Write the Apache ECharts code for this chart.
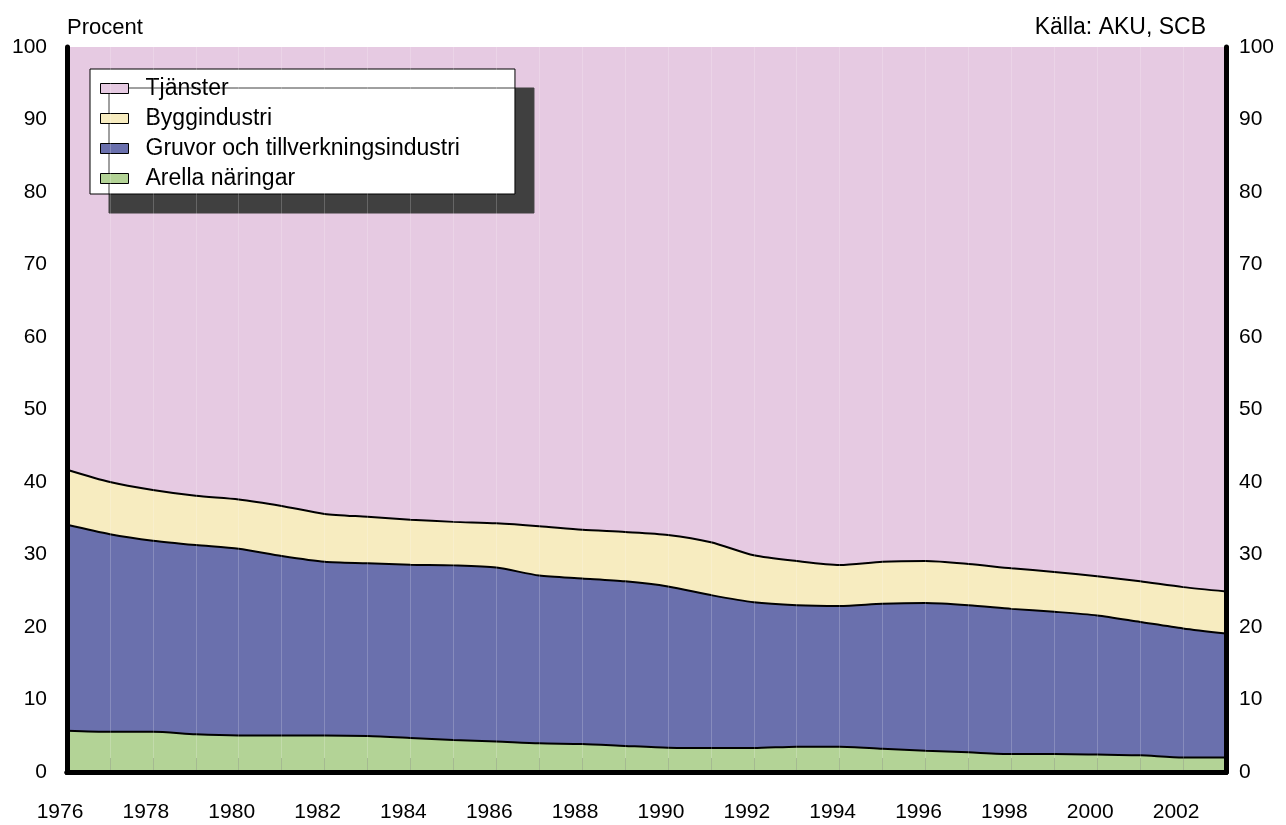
<!DOCTYPE html>
<html>
<head>
<meta charset="utf-8">
<script src="https://cdn.jsdelivr.net/npm/echarts@6/dist/echarts.min.js"></script>
<style>
html,body{margin:0;padding:0;background:#fff;}
#c{width:1286px;height:825px;}
</style>
</head>
<body>
<div id="c"></div>
<script>
const years = ['1976','1977','1978','1979','1980','1981','1982','1983','1984','1985','1986','1987','1988','1989','1990','1991','1992','1993','1994','1995','1996','1997','1998','1999','2000','2001','2002','2003'];
const arella = [5.7,5.55,5.55,5.2,5.05,5.05,5.05,4.97,4.7,4.4,4.2,3.95,3.86,3.6,3.36,3.3,3.3,3.5,3.5,3.2,2.94,2.71,2.48,2.48,2.4,2.3,2.0,2.0];
const gruvor = [28.4,27.25,26.35,26.1,25.75,24.75,23.95,23.83,23.9,24.1,24.0,23.15,22.84,22.7,22.24,21.1,20.1,19.5,19.4,20.0,20.36,20.29,20.02,19.62,19.2,18.4,17.8,17.1];
const bygg = [7.6,7.2,7.0,6.8,6.8,6.9,6.6,6.4,6.2,6.0,6.1,6.8,6.7,6.8,7.1,7.3,6.5,6.1,5.65,5.8,5.8,5.7,5.6,5.5,5.4,5.6,5.7,5.8];
const tjanster = [58.3,60.0,61.1,61.9,62.4,63.3,64.4,64.8,65.2,65.5,65.7,66.1,66.6,66.9,67.3,68.3,70.1,70.9,71.45,71.0,70.9,71.3,71.9,72.4,73.0,73.7,74.5,75.1];
const yTicks = [0,10,20,30,40,50,60,70,80,90,100];

const FONT = '"Liberation Sans", Arial, sans-serif';
const colors = {t:'#E6CAE2', b:'#F7ECC0', g:'#6A70AD', a:'#B3D396'};

const chart = echarts.init(document.getElementById('c'), null, {renderer:'canvas'});

function mk(name, data, color, lw){
  return {
    name: name, type:'line', stack:'tot', data: data,
    smooth: 0.25, symbol:'none', z: 2,
    lineStyle:{color:'#000', width: lw},
    itemStyle:{color: color, borderColor:'#000', borderWidth:1},
    areaStyle:{color: color, opacity:1}
  };
}

chart.setOption({
  animation:false,
  backgroundColor:'#fff',
  textStyle:{fontFamily:FONT},
  grid:{left:67, right:60, top:47, bottom:53, show:true, backgroundColor:colors.t, borderWidth:0},
  graphic:[
    {type:'text', left:67, top:17, style:{text:'Procent', font:'22px '+FONT, fill:'#000'}},
    {type:'text', right:80, top:16, style:{text:'Källa: AKU, SCB', font:'23px '+FONT, fill:'#000'}}
  ],
  legend:{
    left:90, top:69, orient:'vertical',
    data:['Tjänster','Byggindustri','Gruvor och tillverkningsindustri','Arella näringar'],
    backgroundColor:'#fff', borderColor:'#000', borderWidth:1,
    shadowColor:'#404040', shadowBlur:0, shadowOffsetX:19, shadowOffsetY:19,
    padding:[8,55,4,10], itemGap:7, itemWidth:28, itemHeight:10, icon:'rect',
    itemStyle:{borderColor:'#000', borderWidth:1},
    textStyle:{fontSize:23, color:'#000', fontFamily:FONT, padding:[0,0,0,12]}
  },
  xAxis:[{
    type:'category', data:years, boundaryGap:false, z:5,
    axisLine:{show:true, lineStyle:{color:'#000', width:5}},
    axisTick:{show:true, inside:true, length:14, interval:0, lineStyle:{color:'rgba(0,0,0,0.15)', width:1}},
    splitLine:{show:true, interval:0, lineStyle:{color:'rgba(255,255,255,0.2)', width:1}},
    axisLabel:{interval:1, fontSize:21, color:'#000', margin:30, padding:[0,14,0,0], fontFamily:FONT}
  },{
    type:'category', data:years, boundaryGap:false, position:'top', z:5,
    axisLine:{show:true, lineStyle:{color:'#000', width:5}},
    axisTick:{show:false}, axisLabel:{show:false}, splitLine:{show:false}
  }],
  yAxis:[{
    type:'value', min:0, max:100, interval:10, position:'left', z:5,
    axisLine:{show:true, lineStyle:{color:'#000', width:5}},
    axisTick:{show:false}, splitLine:{show:false},
    axisLabel:{fontSize:21, color:'#000', margin:20, padding:[6,0,0,0], fontFamily:FONT}
  },{
    type:'value', min:0, max:100, interval:10, position:'right', z:5,
    axisLine:{show:true, lineStyle:{color:'#000', width:5}},
    axisTick:{show:false}, splitLine:{show:false},
    axisLabel:{fontSize:21, color:'#000', margin:13, padding:[6,0,0,0], fontFamily:FONT}
  }],
  series:[
    mk('Arella näringar', arella, colors.a, 2),
    mk('Gruvor och tillverkningsindustri', gruvor, colors.g, 2),
    mk('Byggindustri', bygg, colors.b, 2),
    mk('Tjänster', tjanster, colors.t, 0)
  ]
});
</script>
</body>
</html>
